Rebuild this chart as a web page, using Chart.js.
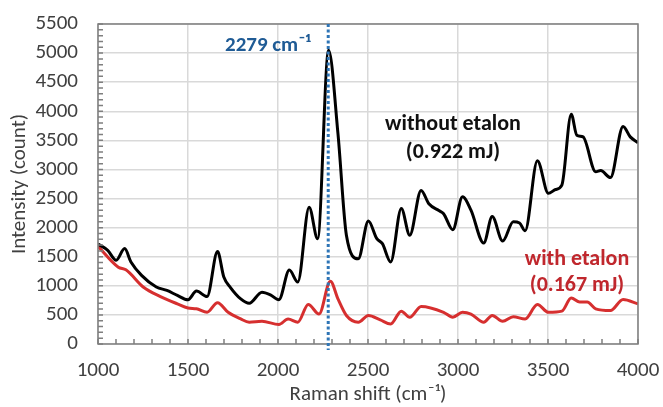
<!DOCTYPE html>
<html>
<head>
<meta charset="utf-8">
<script src="https://cdn.jsdelivr.net/npm/chart.js@4.4.1/dist/chart.umd.min.js"></script>
<style>
  html, body { margin: 0; padding: 0; background: #fff; }
  #wrap { width: 663px; height: 407px; }
</style>
</head>
<body>
<div id="wrap"><canvas id="spectrum"></canvas></div>
<script>
// Raman spectra
const withoutShift = [1000, 1054, 1101, 1148, 1183, 1242, 1324, 1383, 1441, 1500, 1547, 1606, 1664, 1699, 1735, 1793, 1840, 1911, 1958, 2005, 2063, 2110, 2173, 2220, 2281, 2333, 2380, 2446, 2502, 2549, 2580, 2626, 2685, 2732, 2795, 2838, 2896, 2920, 2971, 3025, 3072, 3143, 3190, 3248, 3307, 3342, 3373, 3441, 3502, 3542, 3577, 3629, 3660, 3695, 3765, 3793, 3847, 3917, 3957, 4000];
const withoutCounts = [1720, 1610, 1440, 1640, 1410, 1180, 980, 920, 835, 760, 910, 815, 1590, 1150, 975, 775, 700, 890, 845, 760, 1270, 1065, 2350, 1810, 5050, 3620, 1870, 1465, 2115, 1810, 1725, 1410, 2330, 1870, 2640, 2410, 2290, 2240, 1965, 2530, 2300, 1735, 2190, 1770, 2100, 2080, 1945, 3150, 2590, 2655, 2730, 3950, 3590, 3560, 2960, 2980, 2860, 3740, 3560, 3460];

const withShift = [1000, 1113, 1155, 1253, 1347, 1441, 1500, 1547, 1606, 1664, 1723, 1793, 1840, 1911, 2005, 2056, 2110, 2168, 2228, 2291, 2333, 2380, 2446, 2502, 2568, 2626, 2685, 2732, 2795, 2920, 2971, 3025, 3072, 3143, 3190, 3248, 3307, 3373, 3441, 3502, 3577, 3629, 3676, 3718, 3765, 3847, 3917, 4000];
const withCounts = [1680, 1320, 1275, 975, 815, 690, 620, 605, 545, 710, 545, 430, 375, 390, 335, 430, 375, 680, 515, 1080, 775, 490, 375, 490, 415, 345, 565, 460, 645, 545, 460, 545, 515, 375, 490, 390, 470, 430, 680, 545, 565, 790, 720, 720, 605, 575, 765, 690];

const xTicks = [1000, 1500, 2000, 2500, 3000, 3500, 4000];
const yTicks = [0, 500, 1000, 1500, 2000, 2500, 3000, 3500, 4000, 4500, 5000, 5500];
const peakShift = 2279;

const labels = [
  { text: "2279 cm⁻¹", x: 1944, y: 5120, color: "#1f5b95", size: 21 },
  { text: "without etalon", x: 2972, y: 3780, color: "#111111", size: 22 },
  { text: "(0.922 mJ)", x: 2972, y: 3300, color: "#111111", size: 22 },
  { text: "with etalon", x: 3661, y: 1444, color: "#c0272d", size: 22 },
  { text: "(0.167 mJ)", x: 3661, y: 997, color: "#c0272d", size: 22 },
];

const FONT = "'Carlito', 'Liberation Sans', Arial, sans-serif";

function toPoints(xs, ys) {
  return xs.map((x, i) => ({ x: x, y: ys[i] }));
}

// inward minor ticks, peak marker and text labels
const extras = {
  id: "extras",
  afterDraw(chart) {
    const ctx = chart.ctx;
    const xs = chart.scales.x;
    const ys = chart.scales.y;
    const area = chart.chartArea;

    ctx.save();
    ctx.strokeStyle = "#7f7f7f";
    ctx.lineWidth = 1.5;
    ctx.beginPath();
    for (let v = xs.min; v <= xs.max; v += 100) {
      const px = xs.getPixelForValue(v);
      ctx.moveTo(px, area.bottom);
      ctx.lineTo(px, area.bottom - 5);
    }
    for (let v = ys.min; v <= ys.max; v += 100) {
      const py = ys.getPixelForValue(v);
      ctx.moveTo(area.left, py);
      ctx.lineTo(area.left + 5, py);
    }
    ctx.stroke();
    ctx.strokeRect(area.left, area.top, area.right - area.left, area.bottom - area.top);

    const peakX = xs.getPixelForValue(peakShift);
    ctx.strokeStyle = "#2e75b6";
    ctx.lineWidth = 3;
    ctx.setLineDash([3, 2.5]);
    ctx.beginPath();
    ctx.moveTo(peakX, area.top);
    ctx.lineTo(peakX, area.bottom + 6);
    ctx.stroke();
    ctx.setLineDash([]);

    ctx.textAlign = "center";
    ctx.textBaseline = "middle";
    labels.forEach((l) => {
      ctx.font = "bold " + l.size + "px " + FONT;
      ctx.fillStyle = l.color;
      ctx.fillText(l.text, xs.getPixelForValue(l.x), ys.getPixelForValue(l.y));
    });
    ctx.restore();
  },
};

new Chart(document.getElementById("spectrum"), {
  type: "line",
  data: {
    datasets: [
      {
        label: "without etalon",
        data: toPoints(withoutShift, withoutCounts),
        borderColor: "#000000",
        borderWidth: 3,
        pointRadius: 0,
        tension: 0.4,
        cubicInterpolationMode: "monotone",
      },
      {
        label: "with etalon",
        data: toPoints(withShift, withCounts),
        borderColor: "#d62f2f",
        borderWidth: 3,
        pointRadius: 0,
        tension: 0.4,
        cubicInterpolationMode: "monotone",
      },
    ],
  },
  options: {
    responsive: true,
    maintainAspectRatio: false,
    animation: false,
    layout: { padding: { top: 24, right: 25, left: 0, bottom: 0 } },
    plugins: { legend: { display: false }, tooltip: { enabled: false } },
    scales: {
      x: {
        type: "linear",
        min: 1000,
        max: 4000,
        afterBuildTicks: (axis) => { axis.ticks = xTicks.map((v) => ({ value: v })); },
        afterFit: (axis) => {
          axis.height = 63;
          axis.paddingLeft = 0;
          axis.paddingRight = 0;
        },
        grid: { color: "#d9d9d9", lineWidth: 1.5, drawTicks: false },
        border: { display: false },
        ticks: { color: "#404040", font: { family: FONT, size: 21 }, padding: 14, autoSkip: false, maxRotation: 0, callback: (v) => String(v) },
        title: { display: true, text: "Raman shift (cm⁻¹)", color: "#404040", font: { family: FONT, size: 21 }, padding: { top: 0, bottom: 0 } },
      },
      y: {
        min: 0,
        max: 5500,
        afterBuildTicks: (axis) => { axis.ticks = yTicks.map((v) => ({ value: v })); },
        afterFit: (axis) => {
          axis.width = 98;
          axis.paddingTop = 0;
          axis.paddingBottom = 0;
        },
        grid: { color: "#d9d9d9", lineWidth: 1.5, drawTicks: false },
        border: { display: false },
        ticks: { color: "#404040", font: { family: FONT, size: 21 }, padding: 20, autoSkip: false, callback: (v) => String(v) },
        title: { display: true, text: "Intensity (count)", color: "#404040", font: { family: FONT, size: 21 }, padding: { top: 7, bottom: 0 } },
      },
    },
  },
  plugins: [extras],
});
</script>
</body>
</html>
